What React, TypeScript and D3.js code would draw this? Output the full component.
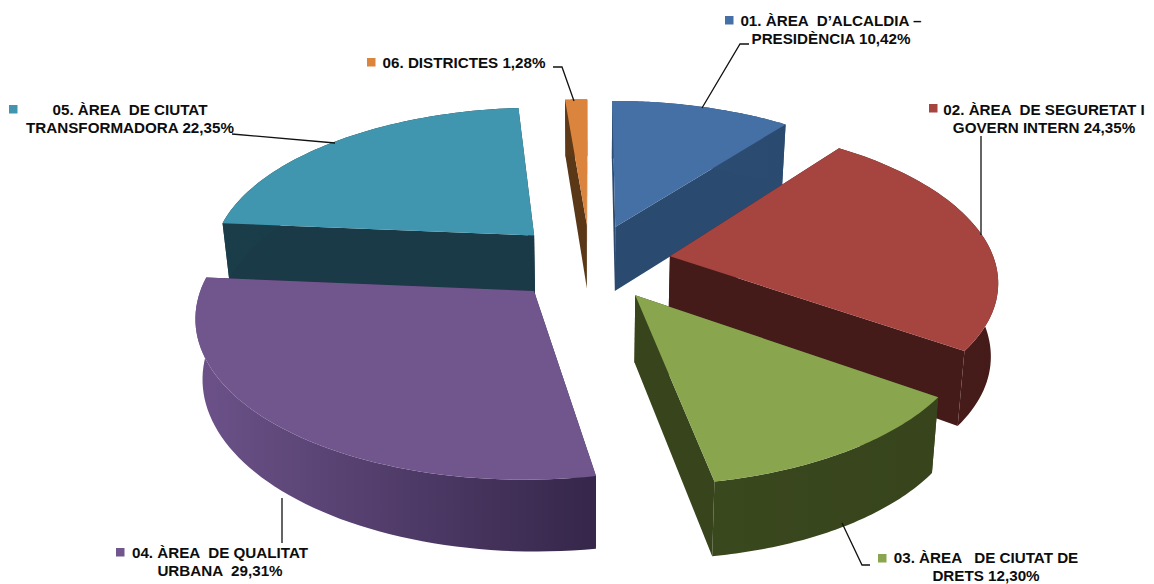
import * as d3 from 'd3';
import React from 'react';

const width = 1154;
const height = 584;

// data
const names = ['01', '02', '03', '04', '05', '06'];
const values = [10.42, 24.35, 12.3, 29.31, 22.35, 1.28];
const topColors = ['#4470a5', '#a64440', '#89a54e', '#71568e', '#4096ae', '#db843d'];
const wallColors = ['#2b4a6f', '#451b1a', '#37441c', '#35264a', '#193a46', '#5a3717'];
const labelLines = [
  ['01. ÀREA  D’ALCALDIA –', 'PRESIDÈNCIA 10,42%'],
  ['02. ÀREA  DE SEGURETAT I', 'GOVERN INTERN 24,35%'],
  ['03. ÀREA   DE CIUTAT DE', 'DRETS 12,30%'],
  ['04. ÀREA  DE QUALITAT', 'URBANA  29,31%'],
  ['05. ÀREA  DE CIUTAT', 'TRANSFORMADORA 22,35%'],
  ['06. DISTRICTES 1,28%'],
];

// label placement: centre x, first baseline, marker x, marker y
const labelPos = [
  [831, 26, 725, 16],
  [1044, 115, 929, 104],
  [986, 563, 878, 554],
  [220, 558, 116, 548],
  [130, 115, 9, 105],
  [464, 68, 367, 58],
];
const leaders = [
  [[749, 44], [740, 44], [702, 108]],
  [[981, 136], [981, 235]],
  [[842, 523], [862, 565], [870, 565]],
  [[282, 498], [282, 543]],
  [[232, 134], [335, 143]],
  [[553, 67], [562, 67], [574, 101]],
];

// projection of the tilted pie
const cx = 590;
const cy = 262;
const radius = 325;
const squash = 153;
const persp = 0.141;
const explode = 0.25;

const project = (X: number, Y: number, z: number): [number, number] => {
  const D = 1 - persp * Y;
  return [
    cx + (radius * X / D) * (1 - 0.018 * z),
    cy + (squash * Y) / D + z * (65 + 6 * X + 6.5 * Y), // wall height grows to the front right
  ];
};

const line = d3.line();
const toPt = (a: number, r: number, ox: number, oy: number, z: number) =>
  project(ox + r * Math.sin(a), oy - r * Math.cos(a), z);

const pieData = d3.pie<number>().sort(null)(values);
const slices = pieData.map((d, i) => {
  const mid = (d.startAngle + d.endAngle) / 2;
  const ox = explode * Math.sin(mid);
  const oy = -explode * Math.cos(mid);
  const angles = d3.range(0, 61).map(k => d.startAngle + ((d.endAngle - d.startAngle) * k) / 60);
  const rim = (z: number) => angles.map(a => toPt(a, 1, ox, oy, z));
  const tip = (z: number) => toPt(0, 0, ox, oy, z);
  const top = line([tip(0), ...rim(0)]) + 'Z';
  const outer = line([...rim(0), ...rim(1).reverse()]) + 'Z';
  const r0 = rim(0);
  const r1 = rim(1);
  const startWall = line([tip(0), r0[0], r1[0], tip(1)]) + 'Z';
  const endWall = line([tip(0), r0[60], r1[60], tip(1)]) + 'Z';
  const xs = [...r0, ...r1].map(p => p[0]);
  return { i, top, outer, startWall, endWall, x0: d3.min(xs), x1: d3.max(xs) };
});

// back slices first
const drawOrder = [5, 0, 4, 1, 3, 2];

export default function App() {
  return (
    <svg
      width={width}
      height={height}
      style={{ position: 'absolute', left: 0, top: 0, fontFamily: 'Liberation Sans', fontWeight: 700 }}
    >
      <defs>
        {slices.map(s => (
          <linearGradient
            key={s.i}
            id={'wall' + s.i}
            gradientUnits="userSpaceOnUse"
            x1={s.x0}
            x2={s.x1}
            y1={0}
            y2={0}
          >
            <stop
              offset="0%"
              stopColor={s.i === 3 ? '#6c5289' : d3.color(wallColors[s.i])!.brighter(0.15).formatHex()}
            />
            <stop offset="100%" stopColor={wallColors[s.i]} />
          </linearGradient>
        ))}
      </defs>
      <rect width={width} height={height} fill="#fff" />
      {drawOrder.map(i => {
        const s = slices[i];
        return (
          <g key={names[i]}>
            <path d={s.startWall} fill={wallColors[i]} />
            <path d={s.endWall} fill={wallColors[i]} />
            <path d={s.outer} fill={`url(#wall${i})`} />
            <path d={s.top} fill={topColors[i]} />
          </g>
        );
      })}
      {leaders.map((pts, i) => (
        <path key={i} d={line(pts as [number, number][])!} fill="none" stroke="#111" strokeWidth={1.3} />
      ))}
      {labelLines.map((lines, i) => {
        const [tx, ty, mx, my] = labelPos[i];
        return (
          <g key={i}>
            <rect x={mx} y={my} width={8.5} height={8.5} fill={topColors[i]} />
            {lines.map((t, k) => (
              <text
                key={k}
                x={tx}
                y={ty + k * 17.5}
                textAnchor="middle"
                fontSize={15.2}
                fill="#0d0d0d"
                style={{ whiteSpace: 'pre' }}
              >
                {t}
              </text>
            ))}
          </g>
        );
      })}
    </svg>
  );
}
